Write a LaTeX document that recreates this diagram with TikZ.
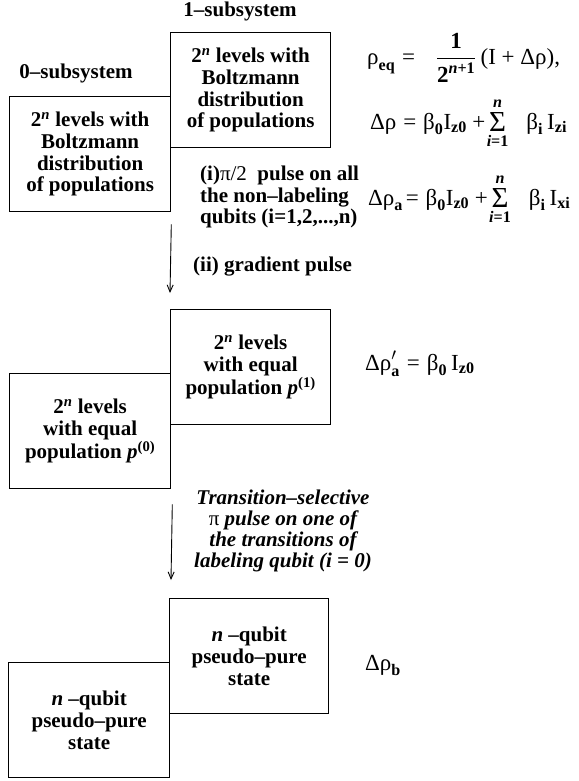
\documentclass[tikz,border=0pt]{standalone}
\usepackage{amsmath}
\usepackage{fontspec}
\setmainfont{Liberation Serif}
\usetikzlibrary{arrows.meta}
\newcommand\bn{\textbf{\textit{n}}}
\newcommand\sumx{\mathop{\hbox{\raisebox{-2pt}{\fontsize{29}{29}\selectfont Σ}}}\limits^{\bn}_{\textbf{\textit{i}=1}}}
\begin{document}
\begin{tikzpicture}[x=1pt,y=-1pt,
  txt/.style={font=\fontsize{21}{21.7}\selectfont\bfseries,inner sep=0pt,align=center},
  fml/.style={font=\fontsize{23}{23}\selectfont\mdseries,inner sep=0pt},
  lvlbox/.style={draw,line width=1.3pt,anchor=north west,minimum height=115pt,inner sep=0pt,
    font=\fontsize{21}{21.7}\selectfont\bfseries,align=center},
  arr/.style={line width=0.9pt,-{Straight Barb[length=7pt,width=6pt]}}]
\useasboundingbox (0,0) rectangle (578,781);
% top
\node[txt] (l1) at (240,11) {1–subsystem};
\node[txt] (l0) at (76,73) {0–subsystem};
\node[lvlbox,minimum width=160pt] (t1) at (170,32) {2\textsuperscript{\textit{n}} levels with\\Boltzmann\\distribution\\of populations};
\node[lvlbox,minimum width=161pt] (t0) at (9,96) {2\textsuperscript{\textit{n}} levels with\\Boltzmann\\distribution\\of populations};
\node[fml,anchor=base west] (feq) at (367,65) {$\text{ρ}_{\textbf{eq}}\mathrel{\text{=}}\;\;\dfrac{\textbf{1}}{\textbf{2}^{\bn\textbf{+1}}}\,\text{(I + Δρ),}$};
\node[fml,anchor=base west] (fdr) at (370,129) {$\text{Δρ} \mathrel{\text{=}} \text{β}_{\textbf{0}}\text{I}_{\textbf{z0}} \mathbin{\text{+}}\!\sumx\;\; \text{β}_{\textbf{i}}\,\text{I}_{\textbf{zi}}$};
\node[txt,align=left,anchor=west] (p1) at (200,197) {(i){\mdseries π/2}\ \ pulse on all\\the non–labeling\\qubits (i=1,2,...,n)};
\node[fml,anchor=base west] (fda) at (368,205) {$\text{Δρ}_{\textbf{a}}\! \mathrel{\text{=}} \text{β}_{\textbf{0}}\text{I}_{\textbf{z0}} \mathbin{\text{+}}\!\sumx\;\; \text{β}_{\textbf{i}}\,\text{I}_{\textbf{xi}}$};
\node[txt,anchor=west] (p2) at (193,267) {(ii) gradient pulse};
% middle
\node[lvlbox,minimum width=160pt] (m1) at (170,309) {2\textsuperscript{\textit{n}} levels\\with equal\\population \textit{p}\textsuperscript{(1)}};
\node[lvlbox,minimum width=161pt] (m0) at (9,373) {2\textsuperscript{\textit{n}} levels\\with equal\\population \textit{p}\textsuperscript{(0)}};
\node[fml,anchor=base west] (fdap) at (365,370) {$\text{Δρ}'_{\textbf{a}} \mathrel{\text{=}} \text{β}_{\textbf{0}}\,\text{I}_{\textbf{z0}}$};
\node[txt,font=\fontsize{21}{21}\selectfont\bfseries\itshape] (p3) at (283,531) {Transition–selective\\{\upshape\mdseries π} pulse on one of\\the transitions of\\labeling qubit (i = 0)};
% bottom
\node[lvlbox,minimum width=159pt] (b1) at (169,598) {\textit{n} –qubit\\pseudo–pure\\state};
\node[lvlbox,minimum width=161pt] (b0) at (8,662) {\textit{n} –qubit\\pseudo–pure\\state};
\node[fml,anchor=base west] (fdb) at (365,670) {$\text{Δρ}_{\textbf{b}}$};
% arrows
\draw[arr] ([yshift=-12pt]t0.south east) -- ([yshift=16pt]m1.north west);
\draw[arr] ([xshift=1pt,yshift=-15pt]m0.south east) -- ([xshift=2pt,yshift=18pt]b1.north west);
\end{tikzpicture}
\end{document}
